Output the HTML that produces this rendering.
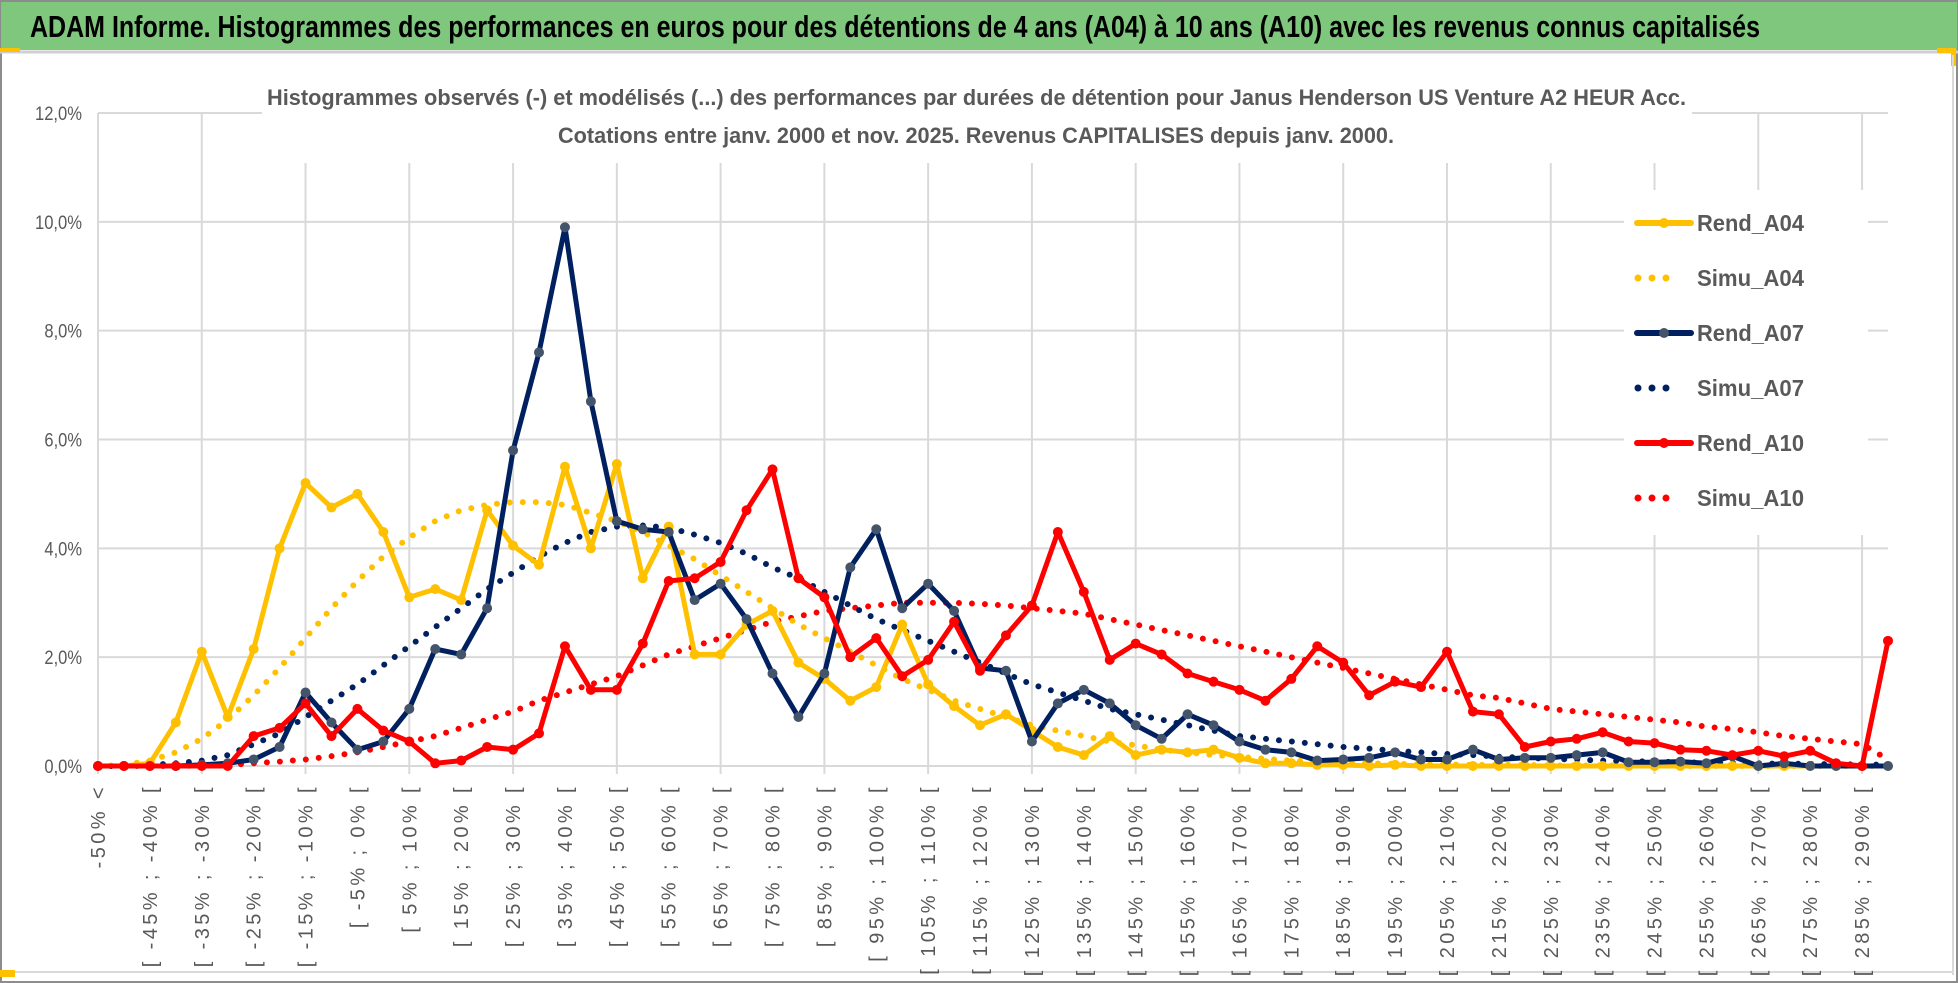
<!DOCTYPE html>
<html><head><meta charset="utf-8"><style>
html,body{margin:0;padding:0;background:#fff}
svg{display:block}
text{font-family:"Liberation Sans",sans-serif}
</style></head><body>
<svg id="chart" width="1958" height="983" viewBox="0 0 1958 983" xmlns="http://www.w3.org/2000/svg">
<rect x="0" y="0" width="1958" height="983" fill="#fff"/>
<rect x="1" y="1" width="1956" height="981" fill="none" stroke="#8c8c8c" stroke-width="2"/>
<rect x="1" y="2" width="1956" height="48" fill="#80c77e"/>
<line x1="0" y1="52" x2="1958" y2="52" stroke="#d0d0d0" stroke-width="3"/>
<rect x="0" y="48" width="20" height="4" fill="#ffc000"/>
<rect x="1937" y="48" width="17" height="5" fill="#ffc000"/>
<rect x="1951" y="48" width="5" height="18" fill="#ffc000"/>
<line x1="1953" y1="55" x2="1953" y2="975" stroke="#d9d9d9" stroke-width="2"/>
<line x1="0" y1="972" x2="1953" y2="972" stroke="#d9d9d9" stroke-width="2"/>
<rect x="0" y="970" width="15" height="7" fill="#ffc000"/>
<text x="30" y="37" font-size="31" font-weight="bold" fill="#000" textLength="1730" lengthAdjust="spacingAndGlyphs">ADAM Informe. Histogrammes des performances en euros pour des détentions de 4 ans (A04) à 10 ans (A10) avec les revenus connus capitalisés</text>
<g id="grid"></g>
<g id="yaxis"></g>
<g id="xaxis"></g>
<rect x="262" y="75" width="1430" height="88" fill="#fff"/>
<text x="267" y="105" font-size="22" font-weight="bold" fill="#595959" textLength="1419" lengthAdjust="spacingAndGlyphs">Histogrammes observés (-) et modélisés (...) des performances par durées de détention pour Janus Henderson US Venture A2 HEUR Acc.</text>
<text x="558" y="143" font-size="22" font-weight="bold" fill="#595959" textLength="836" lengthAdjust="spacingAndGlyphs">Cotations entre janv. 2000 et nov. 2025. Revenus CAPITALISES depuis janv. 2000.</text>
<g id="series"></g>
<rect x="1624" y="190" width="244" height="345" fill="#fff"/>
<g id="legend"></g>
</svg>
<script>
const categories = ["-50% <"];
for (let k = 1; k < 70; k++) { const a = -55 + 5 * k; categories.push("[ " + a + "% ; " + (a + 5) + "% ["); }
const yTicks = [0, 2, 4, 6, 8, 10, 12];
const yTickLabels = ["0,0%", "2,0%", "4,0%", "6,0%", "8,0%", "10,0%", "12,0%"];
const rendA04 = [0,0,0.05,0.8,2.1,0.9,2.15,4.0,5.2,4.75,5.0,4.3,3.1,3.25,3.05,4.7,4.05,3.7,5.5,4.0,5.55,3.45,4.4,2.05,2.05,2.6,2.85,1.9,1.6,1.2,1.45,2.6,1.5,1.1,0.75,0.95,0.65,0.35,0.2,0.55,0.2,0.3,0.25,0.3,0.15,0.05,0.05,0.02,0.02,0,0.02,0,0,0,0,0,0,0,0,0,0,0,0,0,0,0,0,0,0,0];
const simuA04 = [0,0.02,0.1,0.25,0.5,0.85,1.3,1.8,2.35,2.9,3.4,3.85,4.2,4.5,4.7,4.8,4.85,4.85,4.8,4.65,4.5,4.3,4.05,3.8,3.5,3.2,2.9,2.6,2.35,2.1,1.85,1.6,1.4,1.2,1.05,0.9,0.75,0.65,0.55,0.45,0.38,0.3,0.25,0.2,0.17,0.13,0.1,0.08,0.06,0.05,0.04,0.03,0.03,0.02,0.02,0.02,0.01,0.01,0.01,0.01,0.01,0,0,0,0,0,0,0,0,0];
const rendA07 = [0,0,0,0,0.02,0.05,0.12,0.35,1.35,0.8,0.3,0.45,1.05,2.15,2.05,2.9,5.8,7.6,9.9,6.7,4.5,4.35,4.3,3.05,3.35,2.7,1.7,0.9,1.7,3.65,4.35,2.9,3.35,2.85,1.8,1.75,0.45,1.15,1.4,1.15,0.75,0.5,0.95,0.75,0.45,0.3,0.25,0.1,0.12,0.15,0.25,0.12,0.12,0.3,0.12,0.15,0.15,0.2,0.25,0.07,0.07,0.08,0.05,0.18,0,0.05,0,0,0,0];
const simuA07 = [0,0,0.02,0.05,0.1,0.2,0.4,0.6,0.9,1.2,1.5,1.85,2.2,2.55,2.9,3.25,3.55,3.85,4.1,4.3,4.4,4.42,4.38,4.25,4.1,3.9,3.65,3.45,3.2,2.95,2.7,2.5,2.3,2.1,1.9,1.7,1.5,1.35,1.2,1.05,0.95,0.85,0.75,0.65,0.55,0.5,0.45,0.4,0.35,0.32,0.28,0.25,0.22,0.2,0.17,0.15,0.13,0.12,0.1,0.09,0.08,0.07,0.06,0.05,0.05,0.04,0.04,0.03,0.03,0.02];
const rendA10 = [0,0,0,0,0,0,0.55,0.7,1.15,0.55,1.05,0.65,0.45,0.05,0.1,0.35,0.3,0.6,2.2,1.4,1.4,2.25,3.4,3.45,3.75,4.7,5.45,3.45,3.1,2.0,2.35,1.65,1.95,2.65,1.75,2.4,2.95,4.3,3.2,1.95,2.25,2.05,1.7,1.55,1.4,1.2,1.6,2.2,1.9,1.3,1.55,1.45,2.1,1.0,0.95,0.35,0.45,0.5,0.62,0.45,0.42,0.3,0.28,0.2,0.28,0.18,0.28,0.05,0,2.3];
const simuA10 = [0,0,0,0,0.01,0.02,0.05,0.08,0.12,0.18,0.25,0.35,0.45,0.55,0.7,0.85,1.0,1.2,1.35,1.5,1.65,1.85,2.05,2.2,2.35,2.5,2.65,2.75,2.85,2.9,2.95,3.0,3.0,3.0,2.98,2.95,2.9,2.85,2.8,2.7,2.6,2.5,2.4,2.3,2.2,2.1,2.0,1.9,1.8,1.7,1.6,1.5,1.4,1.3,1.25,1.15,1.05,1.0,0.95,0.9,0.85,0.8,0.72,0.68,0.62,0.55,0.5,0.45,0.4,0.12];

const NS = "http://www.w3.org/2000/svg";
const X0 = 98, X1 = 1888, Y0 = 766, Y12 = 113;
const xPos = i => X0 + (X1 - X0) * i / (categories.length - 1);
const yPos = v => Y0 - (Y0 - Y12) * v / 12;
function mk(tag, attrs, parent) { const e = document.createElementNS(NS, tag); for (const k in attrs) e.setAttribute(k, attrs[k]); parent.appendChild(e); return e; }

const grid = document.getElementById('grid');
yTicks.forEach((t, j) => {
  const l = mk('line', {x1: X0, x2: X1, y1: yPos(t), y2: yPos(t), stroke: '#d9d9d9', 'stroke-width': 2}, grid);
  
  
});
for (let i = 0; i < categories.length; i += 4) {
  const l = mk('line', {x1: xPos(i), x2: xPos(i), y1: Y12, y2: Y0 + 8, stroke: '#d9d9d9', 'stroke-width': 2}, grid);
  
  
}
const yaxis = document.getElementById('yaxis');
yTicks.forEach((t, j) => {
  const s = yTickLabels[j];
  const tx = mk('text', {x: 82, y: yPos(t) + 7, 'text-anchor': 'end', 'font-size': 19, fill: '#595959', textLength: s.length * 9.4, lengthAdjust: 'spacingAndGlyphs'}, yaxis);
  tx.textContent = s;
  
  
});
const xaxis = document.getElementById('xaxis');
for (let i = 0; i < categories.length; i += 2) {
  const tx = mk('text', {transform: 'translate(' + (xPos(i) + 7) + ',784) rotate(-90)', 'text-anchor': 'end', 'font-size': 20, fill: '#595959', 'font-family': 'DejaVu Sans, sans-serif', 'letter-spacing': 3.4}, xaxis);
  tx.textContent = categories[i];
  
  
}
const series = document.getElementById('series');
function pathOf(arr) { return arr.map((v, i) => (i ? 'L' : 'M') + xPos(i).toFixed(1) + ' ' + yPos(v).toFixed(1)).join(' '); }
function dotted(arr, color, name) {
  const p = mk('path', {d: pathOf(arr), fill: 'none', stroke: color, 'stroke-width': 6, 'stroke-linecap': 'round', 'stroke-dasharray': '0 13'}, series);
  
  
}
function solid(arr, color, mcolor, name) {
  const g = mk('g', {}, series);
  
  
  const p = mk('path', {d: pathOf(arr), fill: 'none', stroke: color, 'stroke-width': 5, 'stroke-linejoin': 'round'}, g);
  
  
  arr.forEach((v, i) => {
    const c = mk('circle', {cx: xPos(i), cy: yPos(v), r: 5, fill: mcolor}, g);
    
    
  });
}
dotted(simuA10, '#ff0000', 'simu-a10');
dotted(simuA07, '#002060', 'simu-a07');
dotted(simuA04, '#ffc000', 'simu-a04');
solid(rendA04, '#ffc000', '#ffc000', 'rend-a04');
solid(rendA07, '#002060', '#44546a', 'rend-a07');
solid(rendA10, '#ff0000', '#ff0000', 'rend-a10');

const legend = document.getElementById('legend');
const legNames = ["Rend_A04", "Simu_A04", "Rend_A07", "Simu_A07", "Rend_A10", "Simu_A10"];
const legColors = ["#ffc000", "#ffc000", "#002060", "#002060", "#ff0000", "#ff0000"];
const legMark = ["#ffc000", "", "#44546a", "", "#ff0000", ""];
legNames.forEach((n, k) => {
  const y = 223 + k * 55;
  const g = mk('g', {}, legend);
  
  
  if (k % 2 === 0) {
    mk('line', {x1: 1637, x2: 1691, y1: y, y2: y, stroke: legColors[k], 'stroke-width': 6, 'stroke-linecap': 'round'}, g);
    mk('circle', {cx: 1664, cy: y, r: 5, fill: legMark[k]}, g);
  } else {
    mk('line', {x1: 1638, x2: 1680, y1: y, y2: y, stroke: legColors[k], 'stroke-width': 7, 'stroke-linecap': 'round', 'stroke-dasharray': '0 14'}, g);
  }
  const tx = mk('text', {x: 1697, y: y + 8, 'font-size': 23, 'font-weight': 'bold', fill: '#595959', textLength: 107, lengthAdjust: 'spacingAndGlyphs'}, g);
  tx.textContent = n;
});
</script>
</body></html>
